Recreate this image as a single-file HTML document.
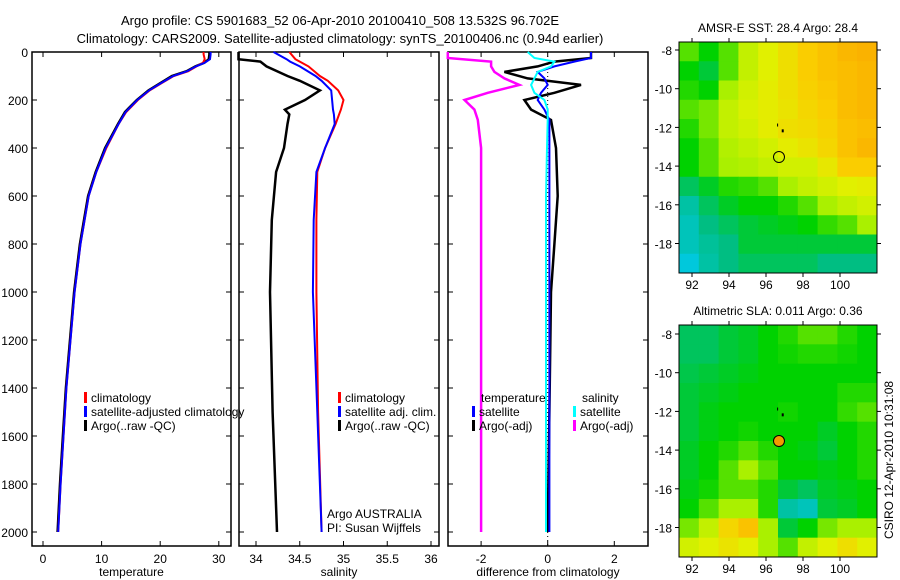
<!DOCTYPE html>
<html><head><meta charset="utf-8"><style>
html,body{margin:0;padding:0;background:#fff}
svg{display:block;font-family:"Liberation Sans",sans-serif}
</style></head><body>
<svg id="fig" width="900" height="580" viewBox="0 0 900 580">
<text x="340" y="25" font-size="13" text-anchor="middle">Argo profile: CS 5901683_52 06-Apr-2010 20100410_508 13.532S 96.702E</text>
<text x="340" y="43" font-size="13" text-anchor="middle">Climatology: CARS2009. Satellite-adjusted climatology: synTS_20100406.nc (0.94d earlier)</text>
<text transform="translate(893,460) rotate(-90)" font-size="12" text-anchor="middle">CSIRO 12-Apr-2010 10:31:08</text>
</svg>
<script>
// ---- data ----
const depthTicks=[0,200,400,600,800,1000,1200,1400,1600,1800,2000];
const tempTicks=[0,10,20,30];
const salTicks=[34,34.5,35,35.5,36];
const diffTicks=[-2,0,2];
const tDepth=[0,10,30,45,60,80,100,130,160,200,250,300,400,500,600,700,800,1000,1200,1400,1600,1800,2000];
const tArgo=[28.4,28.4,28.3,27.5,26,24.5,22,20,18,16,14,12.8,10.6,9,7.7,7,6.3,5.3,4.6,3.9,3.4,2.9,2.5];
const tClim=[27.4,27.4,27.6,27.3,26.2,24.8,22.3,20.2,18.2,16.2,14.2,12.9,10.8,9.1,7.8,7.1,6.4,5.4,4.7,4,3.5,3,2.6];
const tSat=[28.6,28.6,28.5,27.6,26.1,24.6,22.2,20.1,18.1,16.1,14.1,12.9,10.7,9.1,7.8,7.1,6.4,5.4,4.7,4,3.5,3,2.6];
const sDepth=[0,30,40,60,100,120,160,200,240,260,300,400,500,700,1000,1500,2000];
const sArgo=[33.8,33.8,34.05,34.12,34.36,34.5,34.73,34.56,34.33,34.38,34.36,34.32,34.23,34.18,34.16,34.19,34.24];
const sClim=[34.38,34.45,34.5,34.6,34.73,34.82,34.94,35.0,34.97,34.95,34.91,34.79,34.7,34.69,34.69,34.71,34.75];
const sSat=[34.2,34.35,34.39,34.5,34.68,34.75,34.86,34.87,34.88,34.89,34.9,34.79,34.69,34.66,34.65,34.7,34.75];
const dDepth=[0,25,40,60,83,110,137,170,200,240,283,400,600,800,1000,1500,2000];
const dTemp=[1.3,1.3,0.2,-0.3,-1.3,-0.6,1.0,0.2,-0.7,-0.5,0.1,0.25,0.3,0.2,0.1,0.05,0];
const dTempSat=[1.3,1.3,0.8,0.2,-0.3,-0.1,0.0,-0.2,-0.3,-0.1,0.05,0.05,0.05,0.05,0.05,0.05,0.05];
const dSalSat=[-0.6,-0.4,0.2,0.1,-0.3,-0.4,-0.5,-0.4,-0.1,0,0,-0.02,-0.05,-0.05,-0.05,-0.05,-0.05];
const dSalArgo=[-3,-3,-1.7,-1.7,-1.6,-1.3,-0.85,-1.8,-2.5,-2.2,-2.1,-2.0,-2.0,-2.0,-2.0,-2.0,-2.0];
const lonTicks=[92,94,96,98,100];
const latTicks=[-8,-10,-12,-14,-16,-18];
const sstGrid=[
[0.5,0.45,0.5,0.58,0.62,0.66,0.7,0.72,0.74,0.75],
[0.45,0.42,0.5,0.58,0.62,0.66,0.7,0.72,0.73,0.74],
[0.47,0.45,0.55,0.6,0.63,0.66,0.69,0.71,0.73,0.74],
[0.5,0.52,0.58,0.61,0.63,0.65,0.68,0.7,0.73,0.74],
[0.47,0.52,0.58,0.6,0.63,0.66,0.67,0.69,0.72,0.73],
[0.45,0.5,0.56,0.58,0.6,0.63,0.65,0.68,0.72,0.74],
[0.45,0.5,0.55,0.56,0.58,0.6,0.6,0.64,0.7,0.7],
[0.4,0.43,0.47,0.48,0.5,0.55,0.58,0.6,0.62,0.63],
[0.35,0.4,0.43,0.45,0.45,0.47,0.5,0.55,0.58,0.6],
[0.33,0.38,0.4,0.42,0.43,0.44,0.45,0.48,0.5,0.55],
[0.33,0.36,0.38,0.42,0.42,0.42,0.42,0.42,0.42,0.42],
[0.3,0.35,0.38,0.4,0.4,0.4,0.4,0.38,0.38,0.38]];
const slaGrid=[
[0.4,0.4,0.42,0.43,0.45,0.47,0.5,0.5,0.47,0.45],
[0.4,0.4,0.42,0.43,0.45,0.46,0.47,0.47,0.46,0.45],
[0.41,0.42,0.43,0.44,0.45,0.45,0.45,0.45,0.45,0.45],
[0.42,0.43,0.44,0.45,0.45,0.45,0.45,0.45,0.47,0.47],
[0.42,0.44,0.45,0.45,0.45,0.46,0.45,0.45,0.48,0.5],
[0.42,0.44,0.45,0.46,0.45,0.45,0.45,0.43,0.45,0.47],
[0.43,0.45,0.47,0.5,0.47,0.45,0.44,0.42,0.45,0.47],
[0.43,0.45,0.5,0.55,0.5,0.45,0.45,0.44,0.45,0.47],
[0.44,0.46,0.5,0.5,0.47,0.42,0.4,0.43,0.44,0.45],
[0.45,0.5,0.55,0.55,0.47,0.35,0.33,0.42,0.43,0.45],
[0.52,0.58,0.68,0.72,0.55,0.42,0.45,0.52,0.55,0.55],
[0.6,0.62,0.65,0.62,0.55,0.5,0.58,0.62,0.66,0.62]];
const argoLon=96.702, argoLat=-13.532;

// ---- helpers ----
const NS="http://www.w3.org/2000/svg", svg=document.getElementById('fig');
function mk(tag,attrs,parent){const e=document.createElementNS(NS,tag);for(const k in attrs)e.setAttribute(k,attrs[k]);(parent||svg).appendChild(e);return e;}
function txt(x,y,s,anchor,parent){const t=mk('text',{x:x,y:y,'font-size':12,'text-anchor':anchor||'start'},parent);t.textContent=s;return t;}
const yD=d=>52+d*0.24;

function panel(name,x0,x1,xs,xticks,xlabel,labelDepth){
  const g=mk('g',{});
  
  
  mk('rect',{x:x0,y:52,width:x1-x0,height:494,fill:'none',stroke:'#000','stroke-width':1.5},g);
  depthTicks.forEach(d=>{const y=yD(d);
    mk('line',{x1:x0,x2:x0+5,y1:y,y2:y,stroke:'#000'},g);
    mk('line',{x1:x1-5,x2:x1,y1:y,y2:y,stroke:'#000'},g);
    if(labelDepth){const t=txt(28,y+5,String(d),'end',g);
      
      }
  });
  xticks.forEach(v=>{const x=xs(v);
    mk('line',{x1:x,x2:x,y1:546,y2:541,stroke:'#000'},g);
    mk('line',{x1:x,x2:x,y1:52,y2:57,stroke:'#000'},g);
    const t=txt(x,563,String(v),'middle',g);
    
    
  });
  const l=txt((x0+x1)/2,576,xlabel,'middle',g);
  
  
  return g;
}
function line(g,xs,vals,depths,color,w,name){
  const pts=vals.map((v,i)=>xs(v).toFixed(1)+','+yD(depths[i]).toFixed(1)).join(' ');
  const p=mk('polyline',{points:pts,fill:'none',stroke:color,'stroke-width':w},g);
  
  
}
function legend(g,x,y,color,label,name){
  const r=mk('rect',{x:x,y:y-10,width:3,height:11,fill:color},g);
  const t=txt(x+7,y,label,'start',g);
  
  
}

// panel 1 temperature
const xT=v=>43+v*5.86;
const g1=panel('temperature-panel',32,231,xT,tempTicks,'temperature',true);
line(g1,xT,tArgo,tDepth,'#000',2.5,'argo-temperature-line');
line(g1,xT,tClim,tDepth,'#f00',2,'climatology-temperature-line');
line(g1,xT,tSat,tDepth,'#00f',2,'satellite-temperature-line');
legend(g1,84,402,'#f00','climatology','legend-climatology');
legend(g1,84,416,'#00f','satellite-adjusted climatology','legend-satellite');
legend(g1,84,430,'#000','Argo(..raw -QC)','legend-argo');

// panel 2 salinity
const xS=v=>256+(v-34)*87.5;
const g2=panel('salinity-panel',239,439,xS,salTicks,'salinity',false);
line(g2,xS,sArgo,sDepth,'#000',2.5,'argo-salinity-line');
line(g2,xS,sClim,sDepth,'#f00',2,'climatology-salinity-line');
line(g2,xS,sSat,sDepth,'#00f',2,'satellite-salinity-line');
legend(g2,338,402,'#f00','climatology','legend-climatology-sal');
legend(g2,338,416,'#00f','satellite adj. clim.','legend-satellite-sal');
legend(g2,338,430,'#000','Argo(..raw -QC)','legend-argo-sal');
txt(327,518,'Argo AUSTRALIA','start',g2);
txt(327,532,'PI: Susan Wijffels','start',g2);

// panel 3 differences
const xDf=v=>547.7+v*33.3;
const g3=panel('difference-panel',448,648,xDf,diffTicks,'difference from climatology',false);
mk('line',{x1:xDf(0),x2:xDf(0),y1:52,y2:546,stroke:'#000','stroke-dasharray':'1,3'},g3);
line(g3,xDf,dSalArgo,dDepth,'#f0f',2.5,'argo-salinity-diff-line');
line(g3,xDf,dTemp,dDepth,'#000',2.5,'argo-temperature-diff-line');
line(g3,xDf,dTempSat,dDepth,'#00f',2,'satellite-temperature-diff-line');
line(g3,xDf,dSalSat,dDepth,'#0ff',2,'satellite-salinity-diff-line');
txt(481,402,'temperature','start',g3);
legend(g3,472,416,'#00f','satellite','legend-temp-satellite');
legend(g3,472,430,'#000','Argo(-adj)','legend-temp-argo');
txt(582,402,'salinity','start',g3);
legend(g3,573,416,'#0ff','satellite','legend-sal-satellite');
legend(g3,573,430,'#f0f','Argo(-adj)','legend-sal-argo');

// colormap
const stops=[[0,[0,0,140]],[0.2,[0,80,255]],[0.3,[0,200,220]],[0.38,[0,190,130]],[0.45,[0,210,0]],[0.55,[170,240,0]],[0.62,[225,240,0]],[0.7,[250,205,0]],[0.8,[250,150,0]],[1,[200,0,0]]];
function cmap(t){for(let i=1;i<stops.length;i++){if(t<=stops[i][0]){const a=stops[i-1],b=stops[i],f=(t-a[0])/(b[0]-a[0]);
  return 'rgb('+a[1].map((c,k)=>Math.round(c+(b[1][k]-c)*f)).join(',')+')';}}return 'rgb(200,0,0)';}

function map(name,y0,y1,lat8y,title,grid,filled){
  const x0=679,x1=877,lon0=91.3,lon1=102,lat0=-7.6,lat1=-19.55;
  const pxLat=19.35;
  const xL=v=>692+(v-92)*18.5;
  const yL=v=>lat8y+(-8-v)*pxLat;
  const g=mk('g',{});
  
  
  const rows=grid.length,cols=grid[0].length,cw=(x1-x0)/cols,ch=(y1-y0)/rows;
  grid.forEach((row,r)=>row.forEach((v,c)=>{
    const cell=mk('rect',{x:(x0+c*cw).toFixed(2),y:(y0+r*ch).toFixed(2),width:(cw+0.5).toFixed(2),height:(ch+0.5).toFixed(2),fill:cmap(v)},g);
    
    
  }));
  mk('rect',{x:x0,y:y0,width:x1-x0,height:y1-y0,fill:'none',stroke:'#000'},g);
  lonTicks.forEach(v=>{const x=xL(v);mk('line',{x1:x,x2:x,y1:y1,y2:y1+4,stroke:'#000'},g);mk('line',{x1:x,x2:x,y1:y0,y2:y0-4,stroke:'#000'},g);
    const t=txt(x,y1+16,String(v),'middle',g);});
  latTicks.forEach(v=>{const y=yL(v);mk('line',{x1:x0-4,x2:x0,y1:y,y2:y,stroke:'#000'},g);mk('line',{x1:x1,x2:x1+4,y1:y,y2:y,stroke:'#000'},g);
    const t=txt(x0-7,y+5,String(v),'end',g);});
  const tt=txt((x0+x1)/2,y0-10,title,'middle',g);
  
  
  const m=mk('circle',{cx:xL(argoLon),cy:yL(argoLat),r:5.5,fill:filled?'#f39a00':'none',stroke:'#000'},g);
  
  
  mk('rect',{x:xL(96.6),y:yL(-11.8),width:1,height:3,fill:'#000'},g);
  mk('rect',{x:xL(96.85),y:yL(-12.1),width:2,height:3,fill:'#000'},g);
}
map('sst-map',42,273,50,'AMSR-E SST: 28.4  Argo: 28.4',sstGrid,false);
map('sla-map',325,557,334,'Altimetric SLA: 0.011  Argo: 0.36',slaGrid,true);
</script>
</body></html>
